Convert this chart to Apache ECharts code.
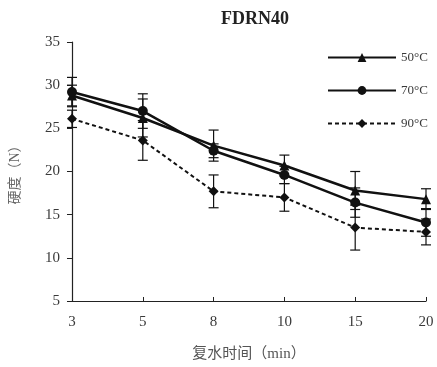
<!DOCTYPE html>
<html>
<head>
<meta charset="utf-8">
<script src="https://cdn.jsdelivr.net/npm/echarts@6/dist/echarts.min.js"></script>
<style>
  html, body { margin: 0; padding: 0; background: #fff; }
  #chart { width: 437px; height: 367px; }
</style>
</head>
<body>
<div id="chart"></div>
<script>
var times = ['3', '5', '8', '10', '15', '20'];
var yTicks = [5, 10, 15, 20, 25, 30, 35];
var hard50 = [28.8, 26.2, 23.0, 20.7, 17.8, 16.8];
var hard70 = [29.2, 27.0, 22.4, 19.6, 16.4, 14.1];
var hard90 = [26.1, 23.6, 17.7, 17.0, 13.5, 13.0];
var err50 = [1.2, 2.2, 1.8, 1.2, 2.2, 1.2];
var err70 = [1.7, 2.0, 0.8, 1.0, 1.7, 1.6];
var err90 = [1.0, 2.3, 1.9, 1.6, 2.6, 1.5];

var serif = '"Liberation Serif", "Noto Sans CJK SC", serif';
var txt = '#3a3a3a';

function errData(vals, errs) {
	var out = [];
	for (var i = 0; i < vals.length; i++) {
		out.push([i, vals[i] - errs[i], vals[i] + errs[i]]);
	}
	return out;
}

// 误差线
function errSeries(vals, errs) {
	return {
		type: 'custom',
		silent: true,
		z: 1,
		data: errData(vals, errs),
		renderItem: function (params, api) {
			var lo = api.coord([api.value(0), api.value(1)]);
			var hi = api.coord([api.value(0), api.value(2)]);
			var w = 5;
			var st = { stroke: '#111', lineWidth: 1.2 };
			return {
				type: 'group',
				children: [
					{ type: 'line', shape: { x1: lo[0], y1: lo[1], x2: hi[0], y2: hi[1] }, style: st },
					{ type: 'line', shape: { x1: lo[0] - w, y1: lo[1], x2: lo[0] + w, y2: lo[1] }, style: st },
					{ type: 'line', shape: { x1: hi[0] - w, y1: hi[1], x2: hi[0] + w, y2: hi[1] }, style: st }
				]
			};
		}
	};
}

var chart = echarts.init(document.getElementById('chart'));
chart.setOption({
	animation: false,
	backgroundColor: '#fff',
	title: {
		text: 'FDRN40',
		left: 250,
		top: 5,
		textAlign: 'center',
		textStyle: { fontFamily: serif, fontWeight: 'bold', fontSize: 18, color: '#222' }
	},
	legend: {
		orient: 'vertical',
		left: 322,
		top: 46,
		itemWidth: 68,
		itemHeight: 11,
		itemGap: 20,
		data: ['50°C', '70°C', '90°C'],
		textStyle: { fontFamily: serif, fontSize: 13, color: txt }
	},
	grid: { left: 71, right: 11, top: 42, bottom: 66 },
	xAxis: {
		type: 'category',
		data: times,
		boundaryGap: false,
		name: '复水时间（min）',
		nameLocation: 'middle',
		nameGap: 46,
		nameTextStyle: { fontFamily: serif, fontSize: 15, color: '#555' },
		axisLine: { lineStyle: { color: '#222', width: 1.2 } },
		axisTick: { inside: true, length: 4, lineStyle: { color: '#222' } },
		axisLabel: { fontFamily: serif, fontSize: 15, color: txt, margin: 14 }
	},
	yAxis: {
		type: 'value',
		min: 5,
		max: 35,
		interval: 5,
		name: '硬度（N）',
		nameLocation: 'middle',
		nameGap: 50,
		nameRotate: 90,
		nameTextStyle: { fontFamily: serif, fontSize: 14, color: '#666' },
		splitLine: { show: false },
		axisLine: { show: true, lineStyle: { color: '#222', width: 1.2 } },
		axisTick: { show: true, length: 5, lineStyle: { color: '#222' } },
		axisLabel: { fontFamily: serif, fontSize: 15, color: txt, margin: 12 }
	},
	series: [
		errSeries(hard50, err50),
		errSeries(hard70, err70),
		errSeries(hard90, err90),
		{
			name: '50°C',
			type: 'line',
			data: hard50,
			symbol: 'triangle',
			symbolSize: 10,
			z: 3,
			lineStyle: { color: '#111', width: 2.5 },
			itemStyle: { color: '#111' }
		},
		{
			name: '70°C',
			type: 'line',
			data: hard70,
			symbol: 'circle',
			symbolSize: 10,
			z: 3,
			lineStyle: { color: '#111', width: 2.5 },
			itemStyle: { color: '#111' }
		},
		{
			name: '90°C',
			type: 'line',
			data: hard90,
			symbol: 'diamond',
			symbolSize: 10,
			z: 3,
			lineStyle: { color: '#111', width: 2, type: [4, 3] },
			itemStyle: { color: '#111' }
		}
	]
});
</script>
</body>
</html>
